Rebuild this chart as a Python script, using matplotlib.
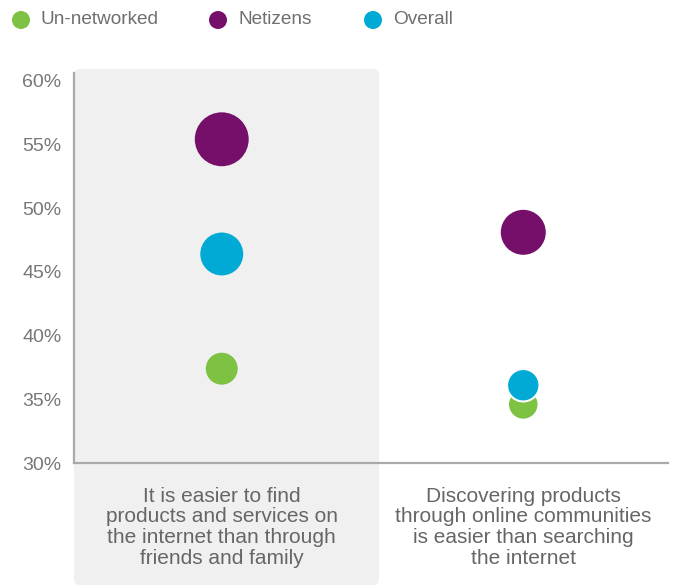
import matplotlib.pyplot as plt
from matplotlib.patches import FancyBboxPatch

plt.rcParams['font.family'] = ['Liberation Sans', 'DejaVu Sans']

categories = ["It is easier to find\nproducts and services on\nthe internet than through\nfriends and family",
              "Discovering products\nthrough online communities\nis easier than searching\nthe internet"]
series = ["Un-networked", "Netizens", "Overall"]
unnetworked = [37.4, 34.6]
netizens = [55.4, 48.1]
overall = [46.4, 36.1]
yticks = [30, 35, 40, 45, 50, 55, 60]

colors = {"Un-networked": "#7dc242", "Netizens": "#760f69", "Overall": "#00aad4"}
values = {"Un-networked": unnetworked, "Netizens": netizens, "Overall": overall}
panel_bg = ["#f0f0f0", "white"]

W, H = 680, 586
fig = plt.figure(figsize=(W / 100, H / 100), dpi=100)
ax = fig.add_axes([74 / W, 1 - 463 / H, (668 - 74) / W, (463 - 73) / H])
ax.patch.set_visible(False)

# shaded panel behind the first category
box = FancyBboxPatch((74, H - 585), 379 - 74, 585 - 69,
                     boxstyle="round,pad=0,rounding_size=6",
                     transform=None, facecolor="#f0f0f0", edgecolor="none", zorder=-5)
fig.patches.append(box)

def size_for(v):
    d_px = 25 + 1.22 * (v - 30)
    return (d_px * 0.72) ** 2

x = [0, 1]
# draw in order so overall sits over un-networked
for name in ["Un-networked", "Netizens", "Overall"]:
    vals = values[name]
    ax.scatter(x, vals, s=[size_for(v) for v in vals], color=colors[name],
               edgecolors=panel_bg, linewidths=1.5, zorder=3, clip_on=False)

ax.set_xlim(-0.49, 1.48)
ax.set_ylim(30, 60.6)
ax.set_yticks(yticks)
ax.set_yticklabels([f"{t}%" for t in yticks])
ax.set_xticks(x)
ax.set_xticklabels(categories, linespacing=1.12)
ax.tick_params(axis="y", length=0, pad=9, labelsize=14, labelcolor="#777777")
ax.tick_params(axis="x", length=0, pad=17, labelsize=15, labelcolor="#666666")
for sp in ["top", "right"]:
    ax.spines[sp].set_visible(False)
for sp in ["left", "bottom"]:
    ax.spines[sp].set_color("#aaaaaa")
    ax.spines[sp].set_linewidth(1.6)

# legend row across the top
lax = fig.add_axes([0, 0, 1, 1], zorder=5)
lax.set_xlim(0, W)
lax.set_ylim(H, 0)
lax.axis("off")
leg_x = [21, 218, 373]
for lx, name in zip(leg_x, series):
    lax.scatter([lx], [20], s=(18 * 0.72) ** 2, color=colors[name], edgecolors="none")
    lax.text(lx + 20, 20, name, va="center", ha="left", fontsize=13.7, color="#6f6f6f")

fig.savefig("out.png", dpi=100)
